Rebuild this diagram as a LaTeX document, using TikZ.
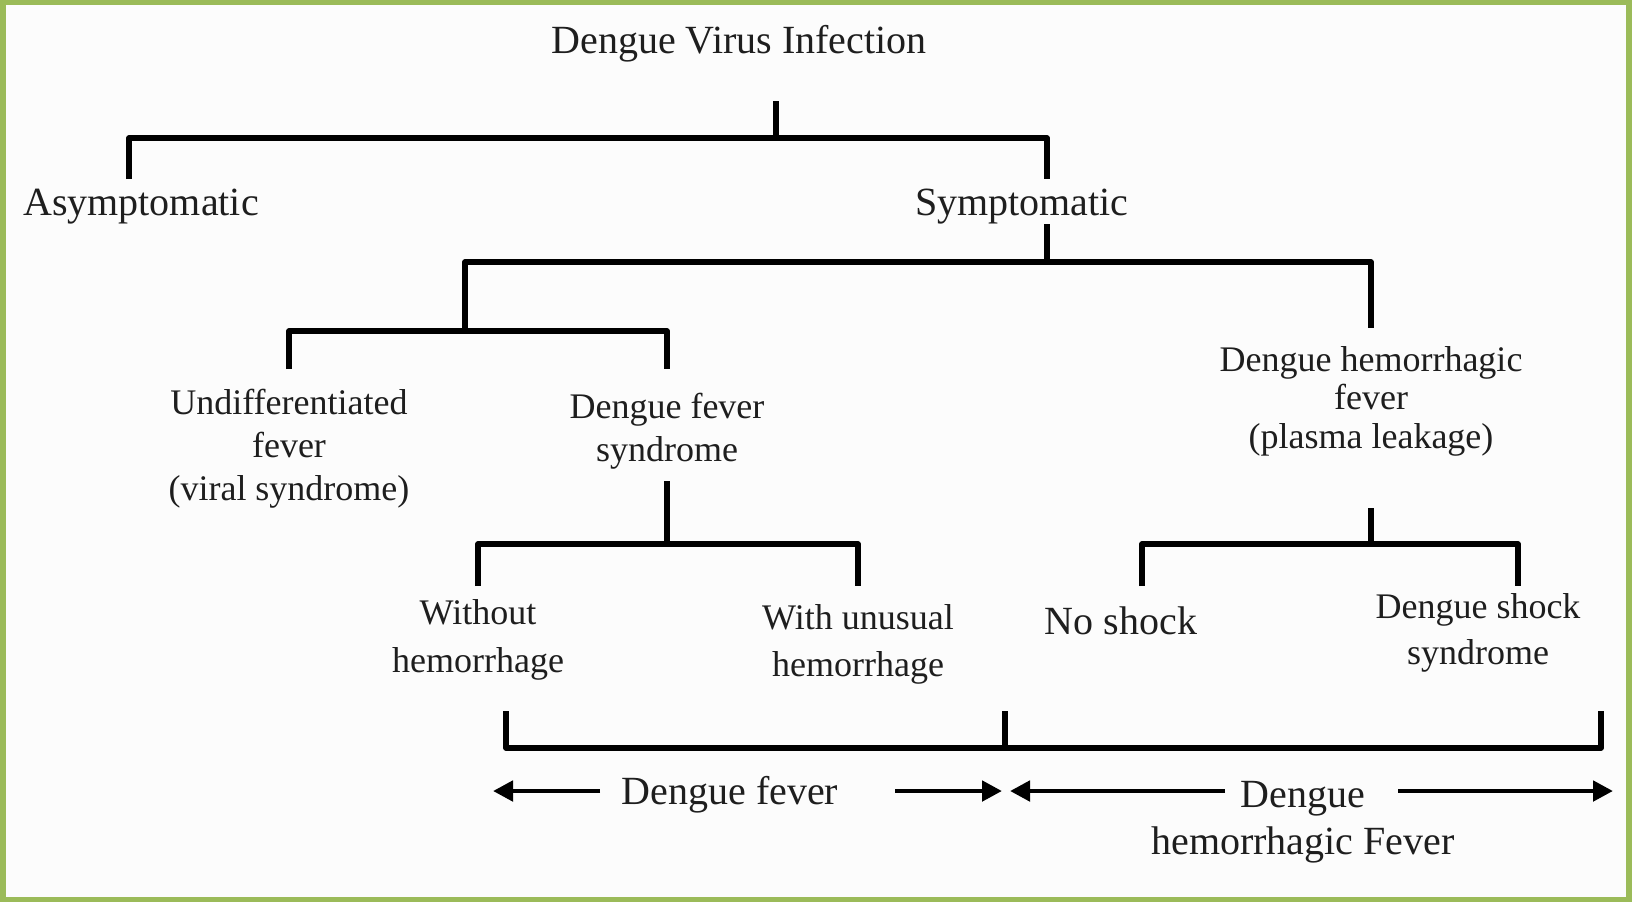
\documentclass[tikz,border=0pt]{standalone}
\usepackage{fontspec}
\setmainfont{Liberation Serif}
\usetikzlibrary{arrows.meta}
\definecolor{frame}{HTML}{9BBB59}
\definecolor{bg}{HTML}{FCFCFC}
\definecolor{txt}{HTML}{1E1E1E}
\tikzset{
  lbl/.style={inner sep=0pt, align=center, text=txt},
  big/.style={font=\fontsize{20}{23.5}\selectfont},
  small/.style={font=\fontsize{18}{21.5}\selectfont},
  conn/.style={line width=2.7pt, draw=black, line join=round},
  arr/.style={line width=2.4pt, draw=black, -{Triangle[length=10pt,width=10pt]}}
}
\begin{document}
\begin{tikzpicture}[x=0.5pt,y=-0.5pt]
\useasboundingbox (0,0) rectangle (1632,902);
\fill[frame] (0,0) rectangle (1632,902);
\fill[bg] (6,5) rectangle (1626,897);

% labels
\node[lbl,big] (root) at (739,44) {Dengue Virus Infection};
\node[lbl,big] (asym) at (141,207) {Asymptomatic};
\node[lbl,big] (sym) at (1022,207) {Symptomatic};
\node[lbl,small] (undiff) at (289,449) {Undifferentiated\\fever\\(viral syndrome)};
\node[lbl,small] (dfs) at (667,431) {Dengue fever\\syndrome};
\node[lbl,small,font=\fontsize{18}{19.3}\selectfont] (dhf) at (1371,401) {Dengue hemorrhagic\\fever\\(plasma leakage)};
\node[lbl,small,font=\fontsize{18}{24}\selectfont] (without) at (478,640) {Without\\hemorrhage};
\node[lbl,small,font=\fontsize{18}{23.5}\selectfont] (withu) at (858,644) {With unusual\\hemorrhage};
\node[lbl,big] (noshock) at (1121,621) {No shock};
\node[lbl,small,font=\fontsize{18}{23}\selectfont] (dss) at (1478,633) {Dengue shock\\syndrome};
\node[lbl,big] (df) at (730,795) {Dengue fever};
\node[lbl,big] (dhfb) at (1303,822) {Dengue\\hemorrhagic Fever};

% junction coordinates
\coordinate (r0) at (776,101);
\coordinate (r1) at (776,138);
\coordinate (a0) at (129,179);
\coordinate (s0) at (1047,179);
\coordinate (s1) at (1047,224);
\coordinate (s2) at (1047,262);
\coordinate (u0) at (465,262);
\coordinate (h0) at (1371,262);
\coordinate (h1) at (1371,328);
\coordinate (u1) at (465,331);
\coordinate (ul) at (289,369);
\coordinate (ur) at (667,369);
\coordinate (f0) at (667,481);
\coordinate (f1) at (667,544);
\coordinate (wl) at (478,586);
\coordinate (wr) at (858,586);
\coordinate (d0) at (1371,508);
\coordinate (d1) at (1371,544);
\coordinate (nl) at (1142,586);
\coordinate (nr) at (1518,586);
\coordinate (b1) at (506,711);
\coordinate (b2) at (1005,711);
\coordinate (b3) at (1601,711);
\coordinate (bb) at (506,748);

% tree connectors
\draw[conn] (r0) -- (r1);
\draw[conn] (a0) |- (r1) -| (s0);
\draw[conn] (s1) -- (s2);
\draw[conn] (u1) |- (s2) -| (h1);
\draw[conn] (ul) |- (u1) -| (ur);
\draw[conn] (f0) -- (f1);
\draw[conn] (wl) |- (f1) -| (wr);
\draw[conn] (d0) -- (d1);
\draw[conn] (nl) |- (d1) -| (nr);
\draw[conn] (b1) |- (b3 |- bb) -- (b3);
\draw[conn] (b2) -- (b2 |- bb);

% range arrows
\coordinate (dfl) at (493,791);
\coordinate (dfr) at (1002,791);
\coordinate (hl) at (1010,791);
\coordinate (hr) at (1613,791);
\draw[arr] (600,791) -- (dfl);
\draw[arr] (895,791) -- (dfr);
\draw[arr] (1225,791) -- (hl);
\draw[arr] (1398,791) -- (hr);
\end{tikzpicture}
\end{document}
